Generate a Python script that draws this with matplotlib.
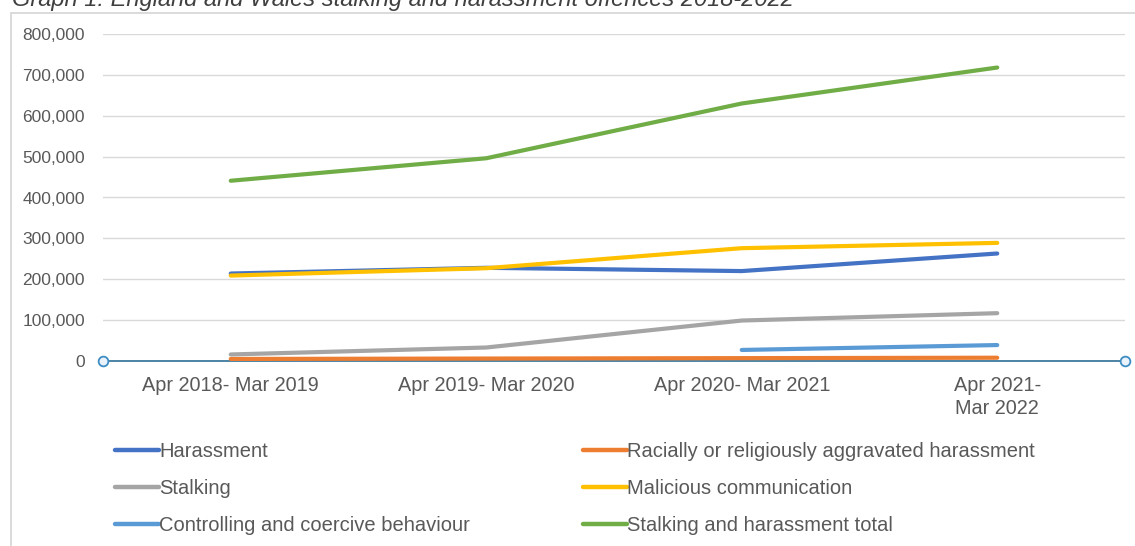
import numpy as np
import matplotlib
matplotlib.use("Agg")
import matplotlib.pyplot as plt
from matplotlib.patches import Rectangle

plt.rcParams['font.family'] = ['Liberation Sans', 'DejaVu Sans']

categories = ["Apr 2018- Mar 2019", "Apr 2019- Mar 2020", "Apr 2020- Mar 2021", "Apr 2021-\nMar 2022"]
harassment = [214000, 228000, 220000, 263000]
racial = [5000, 6000, 7000, 8000]
stalking = [16000, 33000, 99000, 117000]
malicious = [209000, 227000, 276000, 289000]
controlling = [np.nan, np.nan, 27000, 39000]
total = [441000, 496000, 630000, 718000]
yticks = [0, 100000, 200000, 300000, 400000, 500000, 600000, 700000, 800000]

series = [
    ("Harassment", harassment, "#4472C4"),
    ("Racially or religiously aggravated harassment", racial, "#ED7D31"),
    ("Stalking", stalking, "#A5A5A5"),
    ("Malicious communication", malicious, "#FFC000"),
    ("Controlling and coercive behaviour", controlling, "#5B9BD5"),
    ("Stalking and harassment total", total, "#70AD47"),
]

W, H = 1135, 546
fig = plt.figure(figsize=(W / 100, H / 100), dpi=100)

# outer chart border
fig.add_artist(Rectangle((11 / W, -0.05), 1.1, 1 - 13 / H + 0.05, transform=fig.transFigure,
                         fill=False, edgecolor="#d4d4d4", linewidth=1.2))
fig.text(12 / W, 1 - 6 / H, "Graph 1: England and Wales stalking and harassment offences 2018-2022",
         fontsize=17, style="italic", color="#404040", va="baseline", ha="left")

left, right = 103 / W, 1125 / W
bottom, top = 1 - 361 / H, 1 - 34 / H
ax = fig.add_axes([left, bottom, right - left, top - bottom])

x = np.arange(len(categories)) + 0.5
handles = {}
for name, vals, col in series:
    ln, = ax.plot(x, vals, color=col, linewidth=3.0, solid_capstyle="round", zorder=3)
    handles[name] = ln

ax.set_xlim(0, 4)
ax.set_ylim(0, 800000)
ax.set_yticks(yticks)
ax.set_yticklabels([f"{v:,}" for v in yticks])
ax.set_xticks(x)
ax.set_xticklabels(categories, linespacing=1.25)
ax.tick_params(axis="y", length=0, pad=13, labelsize=12.5, labelcolor="#595959")
ax.tick_params(axis="x", length=0, pad=11, labelsize=14.3, labelcolor="#595959")
ax.grid(axis="y", color="#d9d9d9", linewidth=1.0)
ax.set_axisbelow(True)
for s in ["top", "right", "left"]:
    ax.spines[s].set_visible(False)
ax.spines["bottom"].set_color("#2f6f96")
ax.spines["bottom"].set_linewidth(1.2)
ax.plot([0, 4], [0, 0], linestyle="none", marker="o", markersize=7, markerfacecolor="#eaf3fb",
        markeredgecolor="#3d8cc4", markeredgewidth=1.3, clip_on=False, zorder=5)

col1 = ["Harassment", "Stalking", "Controlling and coercive behaviour"]
col2 = ["Racially or religiously aggravated harassment", "Malicious communication", "Stalking and harassment total"]
kw = dict(frameon=False, fontsize=14.5, handlelength=2.2, handletextpad=0.0, labelspacing=0.9,
          borderpad=0, borderaxespad=0, labelcolor="#595959", loc="upper left")
leg1 = fig.legend([handles[n] for n in col1], col1, bbox_to_anchor=(115 / W, 1 - 442 / H), **kw)
leg2 = fig.legend([handles[n] for n in col2], col2, bbox_to_anchor=(583 / W, 1 - 442 / H), **kw)
for leg in (leg1, leg2):
    for l in leg.get_lines():
        l.set_linewidth(3.2)

fig.savefig("out.png", dpi=100)
